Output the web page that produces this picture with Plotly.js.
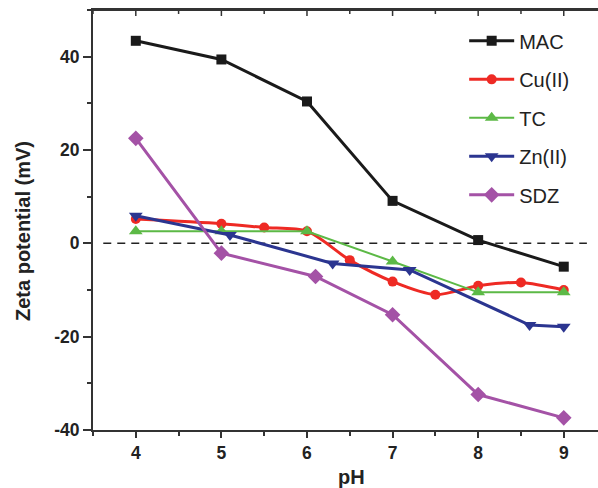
<!DOCTYPE html>
<html>
<head>
<meta charset="utf-8">
<script src="https://cdn.plot.ly/plotly-3.0.1.min.js"></script>
<style>html,body{margin:0;padding:0;background:#fff;}#chart{width:598px;height:488px;}</style>
</head>
<body>
<div id="chart"></div>
<script>
// Data
const macPH = [4, 5, 6, 7, 8, 9];
const macZeta = [43.4, 39.4, 30.4, 9.1, 0.7, -5.0];

const cuPH = [4, 5, 5.5, 6, 6.5, 7, 7.5, 8, 8.5, 9];
const cuZeta = [5.2, 4.2, 3.4, 2.6, -3.6, -8.2, -11.0, -9.1, -8.4, -10.0];

const tcPH = [4, 5, 6, 7, 8, 9];
const tcZeta = [2.6, 2.6, 2.6, -3.9, -10.5, -10.5];

const znPH = [4, 5.1, 6.3, 7.2, 8.6, 9];
const znZeta = [5.9, 1.8, -4.3, -5.7, -17.5, -17.9];

const sdzPH = [4, 5, 6.1, 7, 8, 9];
const sdzZeta = [22.5, -2.1, -7.1, -15.3, -32.4, -37.4];

const refPH = [3.62, 9.27];
const refZeta = [0, 0];

const xTickVals = [4, 5, 6, 7, 8, 9];
const xMinorVals = [3.5, 4.5, 5.5, 6.5, 7.5, 8.5];
const yTickVals = [-40, -20, 0, 20, 40];
const yTickText = ['-40', '-20', '0', '20', '40'];

const FONT = 'Arial, Liberation Sans, sans-serif';
const PLOT_H = 420;

function series(name, x, y, color, symbol, size, width, shape, group) {
  return {
    type: 'scatter', mode: 'lines+markers', name: name, x: x, y: y,
    legendgroup: group,
    line: {color: color, width: width, shape: shape || 'linear', smoothing: 0.8},
    marker: {color: color, symbol: symbol, size: size}
  };
}

const traces = [
  {type: 'scatter', mode: 'lines', x: refPH, y: refZeta,
   showlegend: false, hoverinfo: 'skip', line: {color: '#222', width: 1.5, dash: '8px,6px'}},
  series('MAC', macPH, macZeta, '#1a1a1a', 'square', 10, 3, 'linear', 'a'),
  series('Cu(II)', cuPH, cuZeta, '#ee2a24', 'circle', 10, 3, 'spline', 'b'),
  series('TC', tcPH, tcZeta, '#5cb946', 'triangle-up', 12, 2, 'linear', 'c'),
  series('Zn(II)', znPH, znZeta, '#2b3590', 'triangle-down', 12, 3, 'linear', 'd'),
  series('SDZ', sdzPH, sdzZeta, '#a452a6', 'diamond', 12, 3, 'linear', 'e')
];

// Top frame line and inward ticks (decoration built from the tick arrays)
const shapes = [{type: 'line', xref: 'paper', yref: 'paper', x0: 0, x1: 1, y0: 1, y1: 1,
                 line: {color: '#333', width: 2}}];
xTickVals.forEach(v => shapes.push({type: 'line', xref: 'x', yref: 'paper', x0: v, x1: v,
  y0: 1, y1: 1 - 6 / PLOT_H, line: {color: '#333', width: 1.5}}));
xMinorVals.forEach(v => shapes.push({type: 'line', xref: 'x', yref: 'paper', x0: v, x1: v,
  y0: 1, y1: 1 - 4 / PLOT_H, line: {color: '#333', width: 1.5}}));

const tickFont = {family: FONT, size: 17.5, color: '#222', weight: 'bold'};

const layout = {
  width: 598, height: 488,
  margin: {l: 93, r: 0, t: 10, b: 58},
  paper_bgcolor: '#fff', plot_bgcolor: '#fff',
  showlegend: true,
  legend: {
    x: 0.735, y: 0.973, xanchor: 'left', yanchor: 'top', itemwidth: 45,
    font: {family: FONT, size: 20, color: '#222'},
    bgcolor: 'rgba(0,0,0,0)', tracegroupgap: 9.5
  },
  xaxis: {
    range: [3.5, 9.4], tickvals: xTickVals, ticks: 'outside', ticklen: 6, tickwidth: 2,
    tickcolor: '#333', showline: true, mirror: true, linecolor: '#333', linewidth: 2,
    showgrid: false, zeroline: false, tickfont: tickFont,
    minor: {dtick: 0.5, ticks: 'outside', ticklen: 4, tickwidth: 2, tickcolor: '#333', showgrid: false}
  },
  yaxis: {
    range: [-40, 50], tickvals: yTickVals, ticktext: yTickText, ticks: 'outside', ticklen: 8, tickwidth: 2,
    tickcolor: '#333', showline: true, linecolor: '#333', linewidth: 2,
    showgrid: false, zeroline: false, tickfont: tickFont,
    minor: {dtick: 10, ticks: 'outside', ticklen: 4, tickwidth: 2, tickcolor: '#333', showgrid: false}
  },
  shapes: shapes,
  annotations: [{
    text: 'Zeta potential (mV)', xref: 'paper', yref: 'paper',
    x: (22.5 - 93) / 505, y: (430 - 231.5) / 420, textangle: -90, showarrow: false,
    xanchor: 'center', yanchor: 'middle',
    font: {family: FONT, size: 20, color: '#222', weight: 'bold'}
  }, {
    text: 'pH', xref: 'paper', yref: 'paper',
    x: (351.5 - 93) / 505, y: (430 - 477) / 420, showarrow: false,
    xanchor: 'center', yanchor: 'middle',
    font: {family: FONT, size: 20, color: '#222', weight: 'bold'}
  }]
};

Plotly.newPlot('chart', traces, layout, {displayModeBar: false, staticPlot: true});
</script>
</body>
</html>
